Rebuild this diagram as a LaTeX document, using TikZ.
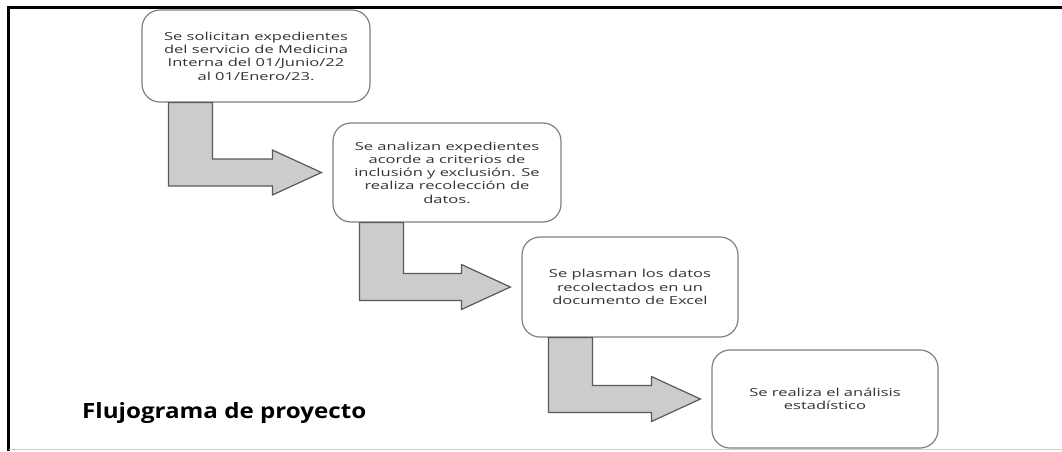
\documentclass[tikz,border=0pt]{standalone}
\usepackage{fontspec}
\setmainfont{Open Sans}
\newfontfamily\boxfont[FakeStretch=1.5]{Open Sans}
\newfontfamily\titlefont[FakeStretch=1.15]{Open Sans}
\usetikzlibrary{calc}
\tikzset{
    stepbox/.style={draw=black!50, line width=1.2pt, rounded corners=18pt, fill=white,
        align=center, text=black!80, inner sep=0pt,
        font=\boxfont\fontsize{11}{13.3}\selectfont},
    flowarrow/.style={draw=black!65, line width=1.2pt, fill=gray!40, line join=miter},
    frame/.style={line width=3pt}
}
% bent arrow from the foot of one box to the side of the next
\newcommand{\bentarrow}[2]{%
    \draw[flowarrow] let \p1=(#1.south west), \p2=(#2.west) in
        (\x1+27pt,\y1) -- (\x1+27pt,\y2-13.5pt) -- (\x2-60pt,\y2-13.5pt)
        -- (\x2-60pt,\y2-22.5pt) -- (\x2-11pt,\y2) -- (\x2-60pt,\y2+22.5pt)
        -- (\x2-60pt,\y2+13.5pt) -- (\x1+71pt,\y2+13.5pt) -- (\x1+71pt,\y1) -- cycle;
}

\begin{document}
\begin{tikzpicture}[x=1pt, y=-1pt]
    \useasboundingbox (0,0) rectangle (1062,451);
    % Frame
    \draw[frame] (8.5,451) -- (8.5,7.5) -- (1062,7.5);
    \draw[gray!40, line width=1.5pt] (8.5,449.5) -- (1062,449.5);
    % Steps
    \node[stepbox, minimum width=228pt, minimum height=92pt] (solicitud) at (256,56)
        {Se solicitan expedientes\\del servicio de Medicina\\Interna del 01/Junio/22\\al 01/Enero/23.};
    \node[stepbox, minimum width=228pt, minimum height=99pt] (analisis) at (447,172.5)
        {Se analizan expedientes\\acorde a criterios de\\inclusión y exclusión. Se\\realiza recolección de\\datos.};
    \node[stepbox, minimum width=216pt, minimum height=100pt] (captura) at (630,287)
        {Se plasman los datos\\recolectados en un\\documento de Excel};
    \node[stepbox, minimum width=226pt, minimum height=98pt] (estadistica) at (825,399)
        {Se realiza el análisis\\estadístico};
    % Arrows
    \bentarrow{solicitud}{analisis}
    \bentarrow{analisis}{captura}
    \bentarrow{captura}{estadistica}
    % Title
    \node[anchor=base west, inner sep=0pt, font=\titlefont\bfseries\fontsize{21}{24}\selectfont]
        (titulo) at (82,418) {Flujograma de proyecto};
\end{tikzpicture}
\end{document}
